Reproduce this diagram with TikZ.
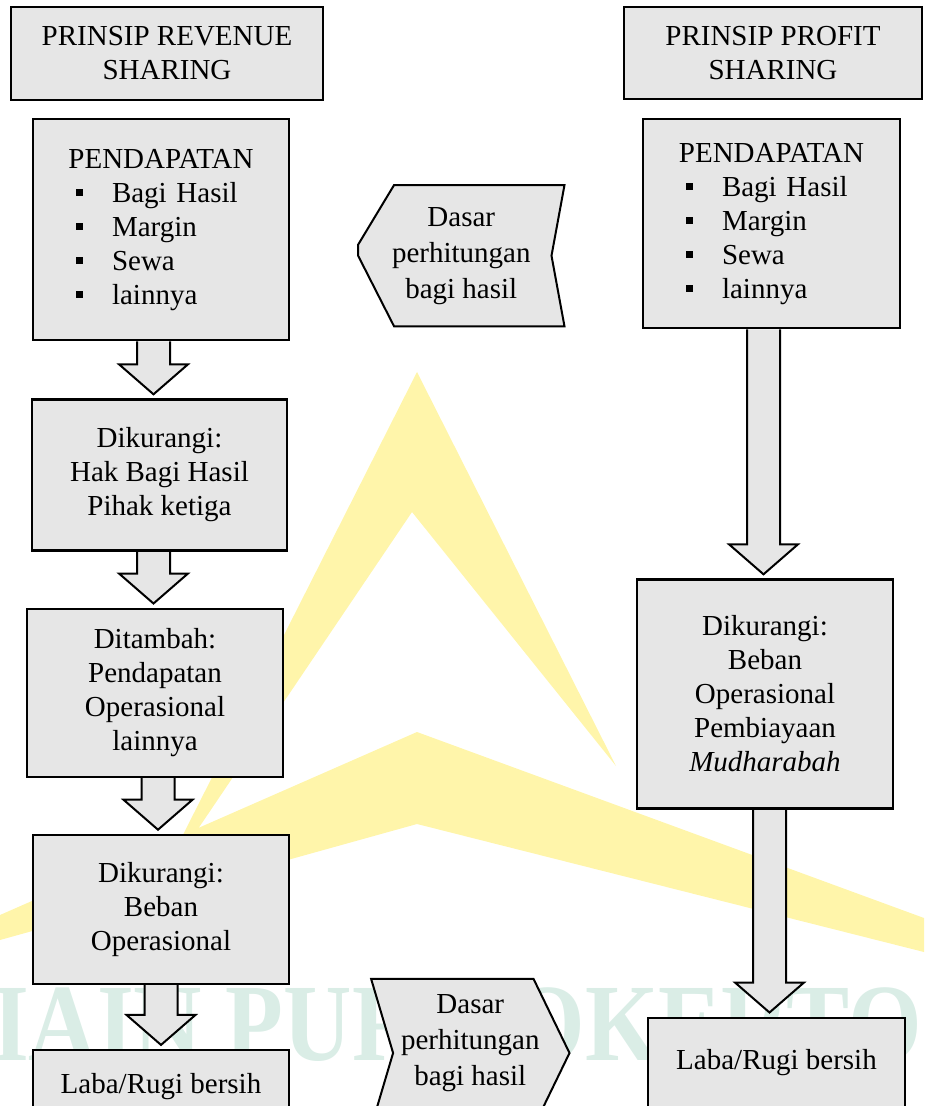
\documentclass[tikz,border=0pt]{standalone}
\usepackage{fontspec}
\setmainfont{Liberation Serif}
\usepackage{graphicx}
\usepackage{tikz}
\usetikzlibrary{positioning,calc,backgrounds}

\definecolor{boxgray}{RGB}{230,230,230}
\definecolor{markyellow}{RGB}{255,245,170}
\definecolor{markgreen}{RGB}{218,237,230}

% bullet item inside the income boxes
\newcommand{\incitem}[1]{\hspace*{43pt}\rule[6pt]{7pt}{7pt}\hspace{29pt}#1}

% block arrow from the bottom of one box to the top of the next
\newcommand{\blockarrow}[3][0pt]{%
  \draw[block arrow] let \p1=($(#2.south)+(#1,0)$), \p2=(#3.north) in
    (\x1-16.5pt,\y1) -- (\x1-16.5pt,\y2+34pt) -- (\x1-34.5pt,\y2+34pt)
    -- (\x1,\y2+4pt) -- (\x1+34.5pt,\y2+34pt) -- (\x1+16.5pt,\y2+34pt)
    -- (\x1+16.5pt,\y1);
}

\begin{document}
\begin{tikzpicture}[
            x=1pt, y=1pt,
            box/.style={draw,line width=2.2pt,fill=boxgray,align=center,inner sep=0pt,font=\fontsize{29}{34}\selectfont},
            basis/.style={inner sep=0pt,align=center,font=\fontsize{29}{36}\selectfont},
            basis shape/.style={draw,line width=2pt,fill=boxgray},
            block arrow/.style={draw,line width=2pt,fill=boxgray},
            watermark/.style={inner sep=0pt,text=markgreen,font=\bfseries\fontsize{110}{110}\selectfont},
        ]
            \useasboundingbox (0,0) rectangle (924,-1106);

            % watermark
            \begin{scope}[on background layer]
                \fill[markyellow] (417,-372) -- (616,-766) -- (412,-512) -- (150,-900) -- cycle;
                \fill[markyellow] (417,-732) -- (924,-918) -- (924,-952) -- (417,-824) -- (0,-940) -- (0,-915) -- cycle;
                \node[watermark,anchor=base] (campus) at (457,-1060) {\scalebox{0.86}[1]{IAIN PURWOKERTO}};
            \end{scope}

            % revenue sharing
            \node[box,minimum width=312pt,minimum height=93pt] (revtitle) at (167,-53.5) {PRINSIP REVENUE\\SHARING};
            \node[box,minimum width=256pt,minimum height=221pt,text width=256pt,align=left,below=17pt of revtitle,xshift=-6pt] (revincome)
                {\makebox[256pt]{PENDAPATAN}\\ \incitem{Bagi Hasil}\\ \incitem{Margin}\\ \incitem{Sewa}\\ \incitem{lainnya}};
            \node[box,minimum width=255pt,minimum height=151pt,below=57pt of revincome,xshift=-1.5pt] (thirdshare) {Dikurangi:\\Hak Bagi Hasil\\Pihak ketiga};
            \node[box,minimum width=256pt,minimum height=168pt,below=56pt of thirdshare,xshift=-4.5pt] (otherincome) {Ditambah:\\Pendapatan\\Operasional\\lainnya};
            \node[box,minimum width=256pt,minimum height=149pt,below=56pt of otherincome,xshift=6pt] (opcost) {Dikurangi:\\Beban\\Operasional};
            \node[box,minimum width=256pt,minimum height=73pt,below=64pt of opcost] (revnet) {Laba/Rugi bersih};

            % profit sharing
            \node[box,minimum width=298pt,minimum height=92pt] (proftitle) at (773,-53) {PRINSIP PROFIT\\SHARING};
            \node[box,minimum width=257pt,minimum height=209pt,text width=257pt,align=left,below=18pt of proftitle,xshift=-1.5pt] (profincome)
                {\makebox[257pt]{PENDAPATAN}\\ \incitem{Bagi Hasil}\\ \incitem{Margin}\\ \incitem{Sewa}\\ \incitem{lainnya}};
            \node[box,minimum width=256pt,minimum height=229pt,below=249pt of profincome,xshift=-6.5pt] (mudcost) {Dikurangi:\\Beban\\Operasional\\Pembiayaan\\\textit{Mudharabah}};
            \node[box,minimum width=257pt,minimum height=89pt,below=207pt of mudcost,xshift=11.5pt] (profnet) {Laba/Rugi bersih};

            % basis of the calculation
            \node[basis,minimum width=206pt,minimum height=141pt,right=68pt of revincome,yshift=-26pt] (basistop) {Dasar\\perhitungan\\bagi hasil};
            \node[basis,minimum width=198pt,minimum height=128pt,right=81pt of revnet,yshift=43.5pt] (basisbottom) {Dasar\\perhitungan\\bagi hasil};

            \begin{scope}[on background layer]
                \draw[basis shape] ($(basistop.north west)+(36,0)$) -- (basistop.north east) -- ($(basistop.east)+(-13,0)$)
                    -- (basistop.south east) -- ($(basistop.south west)+(36,0)$) -- (basistop.west) -- ($(basistop.west)+(0,11)$) -- cycle;
                \draw[basis shape] (basisbottom.north west) -- ($(basisbottom.north east)+(-36,0)$) -- ($(basisbottom.east)+(0,-10)$)
                    -- ($(basisbottom.south east)+(-36,-20)$) -- ($(basisbottom.south west)+(0,-20)$) -- ($(basisbottom.west)+(22,-10)$) -- cycle;

                \blockarrow[-7.5pt]{revincome}{thirdshare}
                \blockarrow[-6pt]{thirdshare}{otherincome}
                \blockarrow[3pt]{otherincome}{opcost}
                \blockarrow{opcost}{revnet}
                \blockarrow[-8pt]{profincome}{mudcost}
                \blockarrow[4.5pt]{mudcost}{profnet}
            \end{scope}
        \end{tikzpicture}
\end{document}
